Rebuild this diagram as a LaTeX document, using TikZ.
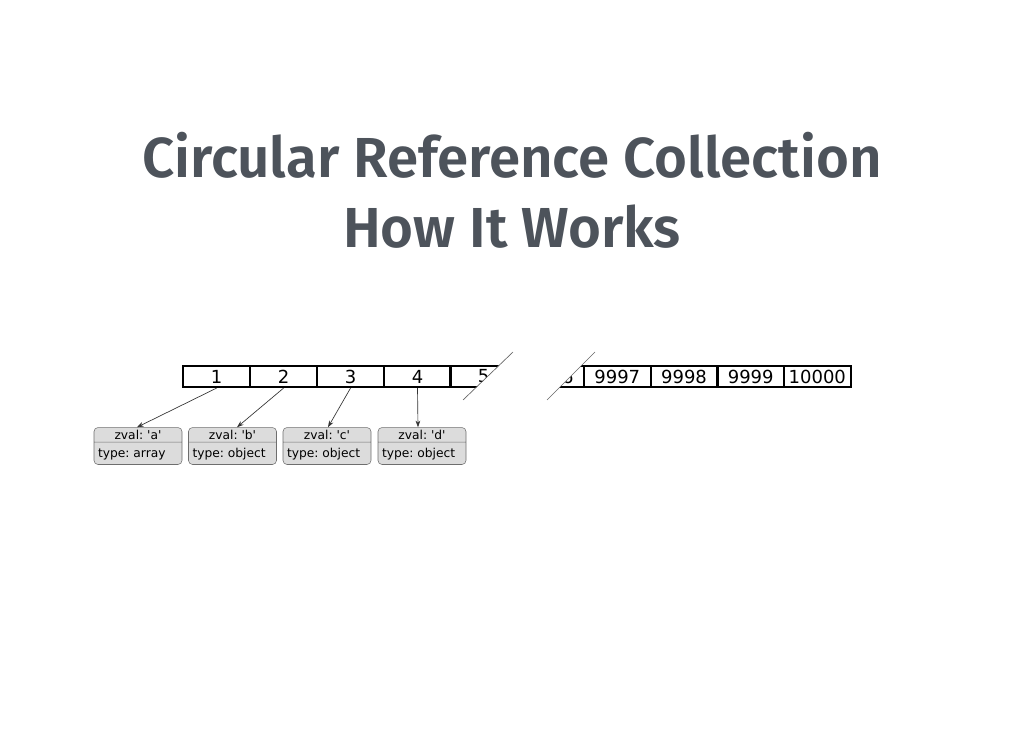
\documentclass[tikz,border=0pt]{standalone}
\usepackage{fontspec}
\usetikzlibrary{arrows.meta,shapes.multipart,calc}
\newfontfamily\titlefont{Fira Sans SemiBold}
\newfontfamily\cellfont{DejaVu Sans}[Ligatures=ResetAll]
\definecolor{titlegray}{HTML}{4D535B}
\definecolor{zvalfill}{HTML}{DCDCDC}
\definecolor{zvaldraw}{HTML}{6E6E6E}
\frenchspacing

\begin{document}
\begin{tikzpicture}[x=0.75pt,y=-0.75pt,
    cell/.style={draw, line width=1.7pt, minimum width=50pt, minimum height=15.75pt, inner sep=0pt, font=\cellfont\fontsize{13.5}{14}\selectfont},
    zval/.style={rectangle split, rectangle split parts=2, draw=zvaldraw, fill=zvalfill, rounded corners=3pt, inner xsep=3pt, inner ysep=1.7pt, font=\cellfont\fontsize{9.2}{10}\selectfont},
    ref/.style={-{Stealth[length=5pt,width=3.5pt]}, black!80, line width=0.5pt},
    brk/.style={black!60, line width=0.5pt},
    heading/.style={anchor=base, text=titlegray, font=\titlefont\fontsize{42.3}{50}\selectfont}]
    \useasboundingbox (0,0) rectangle (1024,746);

    % Title
    \node[heading] (title1) at (512,177) {Circular Reference Collection};
    \node[heading] (title2) at (512,247) {How It Works};

    % Array cells
    \foreach \n/\x in {1/216.5, 2/283.5, 3/350.5, 4/417.5, 9997/617.3, 9998/684, 9999/750.7, 10000/817.3} {
        \node[cell] (c\n) at (\x,376.5) {\n};
    }

    % Cells cut by the break
    \begin{scope}
        \clip (445,340) -- (525.5,340) -- (450.5,412) -- (445,412) -- cycle;
        \node[cell] (c5) at (483.5,376.5) {5};
    \end{scope}
    \begin{scope}
        \clip (535,412) -- (607,340) -- (640,340) -- (640,412) -- cycle;
        \node[cell] (c9996) at (550.7,376.5) {9996};
    \end{scope}
    \draw[brk] (463,400) -- (513,352);
    \draw[brk] (547,400) -- (595,352);

    % zvals
    \foreach \i/\x/\v/\t/\d in {1/138/a/array/-1, 2/232.5/b/object/4.5, 3/327/c/object/1, 4/422/d/object/-4} {
        \node[zval] (z\i) at (\x,446) {\makebox[60pt][c]{zval: '\v'}\nodepart{two}\rule[-3.5pt]{0pt}{13pt}\makebox[60pt][l]{type: \t}};
        \draw[ref] (c\i.south) -- ($(z\i.north)+(\d,0)$);
    }
\end{tikzpicture}
\end{document}
